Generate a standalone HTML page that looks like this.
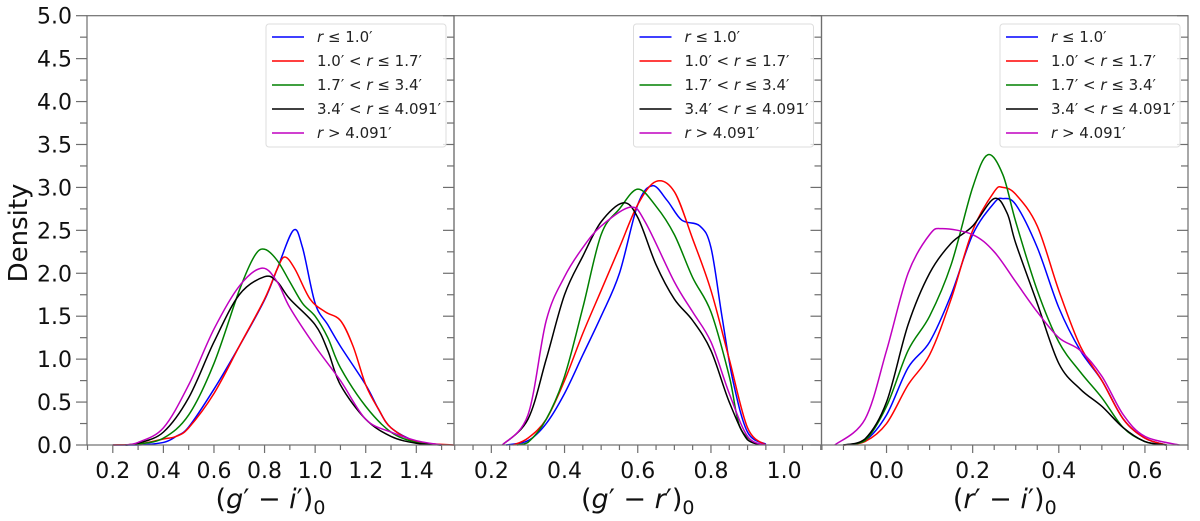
<!DOCTYPE html>
<html><head><meta charset="utf-8"><style>
html,body{margin:0;padding:0;background:#fff;}
svg text{font-family:"DejaVu Sans","Liberation Sans",sans-serif;}
</style></head><body>
<svg id="chart" width="1200" height="516" xmlns="http://www.w3.org/2000/svg"></svg>
<script>
// ---- data ----
const seriesNames = ["r≤1.0", "1.0<r≤1.7", "1.7<r≤3.4", "3.4<r≤4.091", "r>4.091"];
const seriesColors = ["#0000ff", "#ff0000", "#008000", "#000000", "#c000c0"];
const yTicks = [0.0, 0.5, 1.0, 1.5, 2.0, 2.5, 3.0, 3.5, 4.0, 4.5, 5.0];
const p1Ticks = [0.2, 0.4, 0.6, 0.8, 1.0, 1.2, 1.4];
const p2Ticks = [0.2, 0.4, 0.6, 0.8, 1.0];
const p3Ticks = [0.0, 0.2, 0.4, 0.6];
// panel 1 (g'-i')
const p1BlueX = [0.2,0.3,0.4,0.45,0.5,0.6,0.7,0.8,0.85,0.914,0.95,1.0,1.05,1.1,1.2,1.25,1.3,1.4,1.5];
const p1BlueY = [0,0,0.03,0.1,0.21,0.65,1.15,1.69,2.05,2.5,2.3,1.65,1.4,1.15,0.7,0.42,0.2,0.04,0];
const p1RedX = [0.2,0.3,0.4,0.45,0.5,0.6,0.7,0.8,0.85,0.88,0.92,0.98,1.04,1.1,1.15,1.2,1.25,1.3,1.4,1.55];
const p1RedY = [0,0.01,0.07,0.1,0.2,0.6,1.15,1.7,2.05,2.19,2.05,1.7,1.55,1.45,1.15,0.7,0.42,0.2,0.04,0];
const p1GreenX = [0.25,0.3,0.4,0.5,0.6,0.7,0.76,0.8,0.85,0.9,0.95,1.0,1.05,1.1,1.2,1.3,1.4,1.5];
const p1GreenY = [0,0.01,0.08,0.35,0.95,1.8,2.2,2.28,2.15,1.9,1.65,1.5,1.25,0.9,0.45,0.15,0.03,0];
const p1BlackX = [0.25,0.3,0.4,0.5,0.6,0.7,0.8,0.85,0.9,1.0,1.05,1.1,1.2,1.3,1.4,1.5];
const p1BlackY = [0,0.02,0.15,0.55,1.2,1.75,1.96,1.9,1.7,1.4,1.1,0.7,0.3,0.1,0.02,0];
const p1MagX = [0.25,0.3,0.4,0.5,0.6,0.7,0.79,0.85,0.9,1.0,1.1,1.2,1.3,1.4,1.5];
const p1MagY = [0,0.03,0.2,0.7,1.35,1.85,2.06,1.9,1.6,1.15,0.75,0.3,0.15,0.05,0];
// panel 2 (g'-r')
const p2BlueX = [0.24,0.3,0.35,0.4,0.45,0.5,0.55,0.6,0.64,0.68,0.72,0.77,0.8,0.83,0.86,0.9,0.95];
const p2BlueY = [0,0.05,0.25,0.6,1.05,1.5,2.0,2.8,3.02,2.85,2.62,2.55,2.3,1.5,0.75,0.15,0.01];
const p2RedX = [0.26,0.3,0.35,0.4,0.45,0.5,0.55,0.6,0.65,0.7,0.75,0.8,0.85,0.9,0.95];
const p2RedY = [0,0.08,0.3,0.75,1.3,1.8,2.3,2.8,3.07,2.95,2.4,1.8,1.0,0.2,0];
const p2GreenX = [0.27,0.3,0.35,0.4,0.45,0.5,0.55,0.6,0.65,0.7,0.75,0.8,0.85,0.88,0.93];
const p2GreenY = [0,0.03,0.3,0.8,1.6,2.45,2.75,2.98,2.78,2.45,1.95,1.55,0.8,0.2,0];
const p2BlackX = [0.23,0.3,0.35,0.4,0.45,0.5,0.56,0.6,0.65,0.7,0.75,0.8,0.85,0.9,0.95];
const p2BlackY = [0,0.3,1.0,1.75,2.2,2.6,2.82,2.65,2.1,1.7,1.45,1.1,0.5,0.06,0];
const p2MagX = [0.23,0.3,0.35,0.4,0.45,0.5,0.58,0.62,0.7,0.75,0.8,0.85,0.9,0.95];
const p2MagY = [0,0.35,1.45,1.96,2.3,2.55,2.77,2.6,1.9,1.55,1.2,0.6,0.1,0];
// panel 3 (r'-i')
const p3BlueX = [-0.1,-0.05,0,0.05,0.1,0.15,0.2,0.25,0.27,0.3,0.35,0.4,0.45,0.5,0.55,0.6,0.65];
const p3BlueY = [0,0.05,0.35,0.9,1.2,1.75,2.45,2.82,2.87,2.8,2.3,1.6,1.1,0.75,0.3,0.08,0];
const p3RedX = [-0.1,-0.05,0,0.05,0.1,0.15,0.2,0.25,0.27,0.3,0.35,0.4,0.45,0.5,0.55,0.6,0.65];
const p3RedY = [0,0.04,0.25,0.7,1.05,1.7,2.5,2.95,3.0,2.92,2.55,1.8,1.15,0.75,0.3,0.08,0];
const p3GreenX = [-0.1,-0.05,0,0.05,0.1,0.15,0.2,0.235,0.27,0.3,0.35,0.4,0.45,0.5,0.55,0.6,0.65];
const p3GreenY = [0,0.05,0.45,1.1,1.5,2.1,3.0,3.38,3.15,2.6,1.8,1.2,0.85,0.55,0.2,0.04,0];
const p3BlackX = [-0.1,-0.05,0,0.05,0.1,0.15,0.2,0.25,0.28,0.3,0.35,0.4,0.45,0.5,0.55,0.6,0.65];
const p3BlackY = [0,0.07,0.5,1.4,2.0,2.35,2.55,2.87,2.7,2.35,1.65,0.95,0.65,0.45,0.2,0.04,0];
const p3MagX = [-0.12,-0.05,0,0.05,0.1,0.13,0.2,0.25,0.3,0.35,0.4,0.45,0.5,0.55,0.6,0.68];
const p3MagY = [0,0.3,1.1,2.0,2.45,2.52,2.45,2.25,1.9,1.55,1.25,1.1,0.8,0.35,0.1,0];

const NS = "http://www.w3.org/2000/svg";
const svg = document.getElementById("chart");
function mk(tag, attrs, parent){ const e=document.createElementNS(NS,tag); for(const k in attrs) e.setAttribute(k,attrs[k]); (parent||svg).appendChild(e); return e; }

const Y0 = 445, Y1 = 15.7;
function yScale(v){ return Y0 - (v/5)*(Y0-Y1); }

const panels = [
  {name:"g-i", left:87, right:454, xmin:0.098, xmax:1.549, ticks:p1Ticks, minor:0.1, dec:1,
   label:["g","i"], xs:[p1BlueX,p1RedX,p1GreenX,p1BlackX,p1MagX], ys:[p1BlueY,p1RedY,p1GreenY,p1BlackY,p1MagY]},
  {name:"g-r", left:454, right:821.5, xmin:0.098, xmax:1.102, ticks:p2Ticks, minor:0.05, dec:1,
   label:["g","r"], xs:[p2BlueX,p2RedX,p2GreenX,p2BlackX,p2MagX], ys:[p2BlueY,p2RedY,p2GreenY,p2BlackY,p2MagY]},
  {name:"r-i", left:821.5, right:1188, xmin:-0.151, xmax:0.70, ticks:p3Ticks, minor:0.05, dec:1,
   label:["r","i"], xs:[p3BlueX,p3RedX,p3GreenX,p3BlackX,p3MagX], ys:[p3BlueY,p3RedY,p3GreenY,p3BlackY,p3MagY]}
];

function smoothPath(pts){
  let d = "M"+pts[0][0].toFixed(2)+","+pts[0][1].toFixed(2);
  for(let i=0;i<pts.length-1;i++){
    const p0=pts[Math.max(0,i-1)], p1=pts[i], p2=pts[i+1], p3=pts[Math.min(pts.length-1,i+2)];
    const c1x=p1[0]+(p2[0]-p0[0])/6, c1y=p1[1]+(p2[1]-p0[1])/6;
    const c2x=p2[0]-(p3[0]-p1[0])/6, c2y=p2[1]-(p3[1]-p1[1])/6;
    d+=" C"+c1x.toFixed(2)+","+Math.min(Y0,c1y).toFixed(2)+" "+c2x.toFixed(2)+","+Math.min(Y0,c2y).toFixed(2)+" "+p2[0].toFixed(2)+","+p2[1].toFixed(2);
  }
  return d;
}

const axisCol = "#6e6e6e";
panels.forEach((p, pi) => {
  const g = mk("g",{});
  
  
  const xScale = v => p.left + (v-p.xmin)/(p.xmax-p.xmin)*(p.right-p.left);
  p.xs.forEach((xa, si) => {
    const pts = xa.map((xv,i)=>[xScale(xv), yScale(p.ys[si][i])]);
    const path = mk("path",{d:smoothPath(pts), fill:"none", stroke:seriesColors[si], "stroke-width":1.5}, g);
    
    
  });
  const frame = mk("rect",{x:p.left,y:Y1,width:p.right-p.left,height:Y0-Y1,fill:"none",stroke:axisCol,"stroke-width":1.2}, g);
  
  
  for(let v=0; v<=5.001; v+=0.25){
    const major = Math.abs(v*2-Math.round(v*2))<1e-6;
    const y = yScale(v);
    const L = major?11:7;
    mk("line",{x1:p.right-L,x2:p.right,y1:y,y2:y,stroke:axisCol,"stroke-width":1.2},g);
    if(pi===0) mk("line",{x1:p.left-L,x2:p.left,y1:y,y2:y,stroke:axisCol,"stroke-width":1.2},g);
  }
  const start = Math.ceil(p.xmin/p.minor-1e-6);
  for(let k=start; k*p.minor<=p.xmax+1e-9; k++){
    const x = xScale(k*p.minor);
    const isMaj = p.ticks.some(t=>Math.abs(t-k*p.minor)<1e-6);
    mk("line",{x1:x,x2:x,y1:Y0,y2:Y0+(isMaj?8:5),stroke:axisCol,"stroke-width":1.2},g);
  }
  p.ticks.forEach(t=>{
    const tx = mk("text",{x:xScale(t),y:478,"font-size":22,"text-anchor":"middle",fill:"#111"},g);
    tx.textContent = t.toFixed(p.dec);
    
    
  });
  const xl = mk("text",{x:(p.left+p.right)/2,y:508,"font-size":27,"text-anchor":"middle",fill:"#111"},g);
  
  
  xl.innerHTML = '(<tspan font-style="italic">'+p.label[0]+'</tspan>′ − <tspan font-style="italic">'+p.label[1]+'</tspan>′)<tspan font-size="19" dy="6">0</tspan>';
  const lw=180, lx=p.right-8-lw, ly=24;
  const lg = mk("g",{},g);
  
  
  mk("rect",{x:lx,y:ly,width:lw,height:123,rx:3,fill:"#fff","fill-opacity":0.8,stroke:"#dddddd","stroke-width":1},lg);
  const labels = [
    '<tspan font-style="italic">r</tspan> ≤ 1.0′',
    '1.0′ &lt; <tspan font-style="italic">r</tspan> ≤ 1.7′',
    '1.7′ &lt; <tspan font-style="italic">r</tspan> ≤ 3.4′',
    '3.4′ &lt; <tspan font-style="italic">r</tspan> ≤ 4.091′',
    '<tspan font-style="italic">r</tspan> &gt; 4.091′'
  ];
  seriesNames.forEach((n,si)=>{
    const yy = ly+13+si*24;
    const e = mk("g",{},lg);
    
    
    mk("line",{x1:lx+6,x2:lx+38,y1:yy,y2:yy,stroke:seriesColors[si],"stroke-width":1.5},e);
    const t = mk("text",{x:lx+51,y:yy+5,"font-size":15,fill:"#222"},e);
    t.innerHTML = labels[si];
  });
});
yTicks.forEach(v=>{
  const t = mk("text",{x:72,y:yScale(v)+8,"font-size":22,"text-anchor":"end",fill:"#111"});
  t.textContent = v.toFixed(1);
  
  
});
const yl = mk("text",{x:0,y:0,"font-size":26,"text-anchor":"middle",fill:"#111",transform:"translate(27,233) rotate(-90)"});
yl.textContent = "Density";


</script>
</body></html>
